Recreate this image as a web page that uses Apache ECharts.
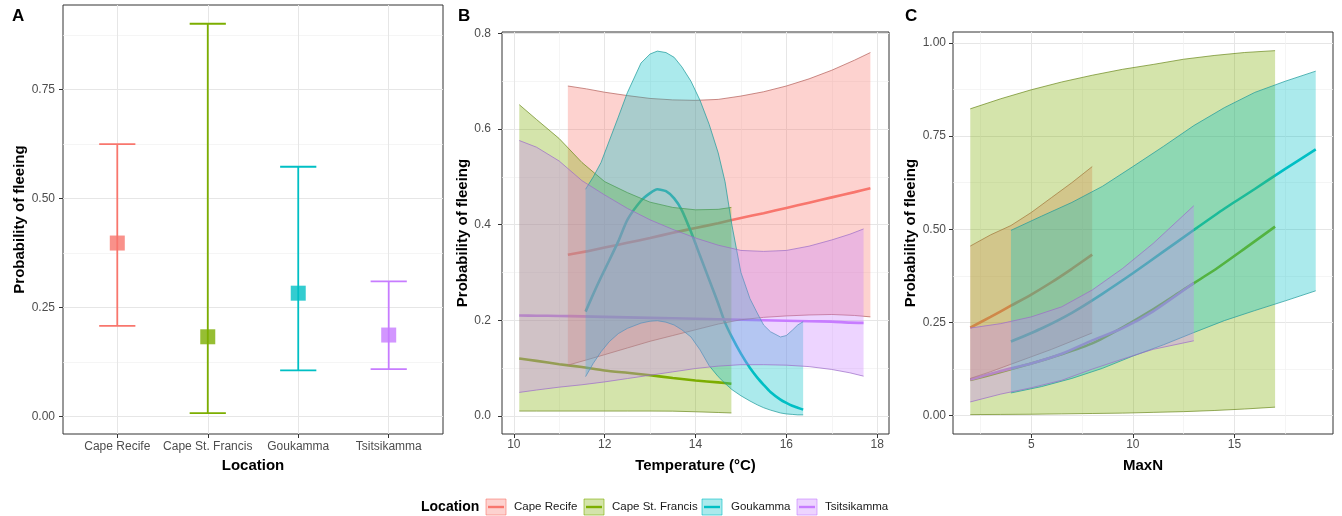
<!DOCTYPE html>
<html>
<head>
<meta charset="utf-8">
<script src="https://cdn.jsdelivr.net/npm/echarts@6/dist/echarts.min.js"></script>
<style>
  html, body { margin: 0; padding: 0; background: #ffffff; }
  #chart { width: 1342px; height: 516px; }
</style>
</head>
<body>
<div id="chart"></div>
<script>
// ---------- data ----------
const locations = ['Cape Recife', 'Cape St. Francis', 'Goukamma', 'Tsitsikamma'];
const palette = ['#F8766D', '#7CAE00', '#00BFC4', '#C77CFF'];
const edgeColors = ['#B4605A', '#6C8A1E', '#1E9A9A', '#9C6CC8'];

// Panel A: probability of fleeing by location (estimate with 95% CI)
const locFit = [0.398, 0.183, 0.283, 0.187];
const locLower = [0.208, 0.008, 0.106, 0.109];
const locUpper = [0.625, 0.901, 0.573, 0.310];

// Panel B: probability of fleeing against temperature (°C)
const tempRecifeX = [11.19, 11.6, 12.0, 12.5, 13.0, 13.5, 14.0, 14.5, 15.0, 15.5, 16.0, 16.5, 17.0, 17.5, 17.85];
const tempRecifeFit = [0.337, 0.344, 0.352, 0.362, 0.372, 0.383, 0.393, 0.403, 0.414, 0.424, 0.435, 0.446, 0.457, 0.468, 0.476];
const tempRecifeLo = [0.106, 0.117, 0.128, 0.142, 0.156, 0.168, 0.180, 0.192, 0.201, 0.206, 0.209, 0.211, 0.212, 0.210, 0.207];
const tempRecifeHi = [0.690, 0.684, 0.677, 0.670, 0.664, 0.661, 0.660, 0.662, 0.669, 0.678, 0.690, 0.705, 0.723, 0.744, 0.760];

const tempFrancisX = [10.12, 10.5, 11.0, 11.5, 12.0, 12.5, 13.0, 13.5, 14.0, 14.5, 14.79];
const tempFrancisFit = [0.120, 0.115, 0.108, 0.102, 0.095, 0.090, 0.085, 0.079, 0.074, 0.070, 0.067];
const tempFrancisLo = [0.010, 0.010, 0.010, 0.010, 0.010, 0.010, 0.010, 0.0098, 0.0085, 0.007, 0.006];
const tempFrancisHi = [0.651, 0.620, 0.580, 0.530, 0.490, 0.467, 0.447, 0.436, 0.431, 0.432, 0.436];

const tempGoukammaX = [11.58, 11.75, 11.92, 12.1, 12.3, 12.5, 12.8, 13.0, 13.16, 13.35, 13.53, 13.7, 13.9, 14.1, 14.3, 14.5, 14.65, 14.8, 15.0, 15.2, 15.36, 15.5, 15.65, 15.87, 16.0, 16.13, 16.25, 16.37];
const tempGoukammaFit = [0.218, 0.255, 0.290, 0.325, 0.365, 0.410, 0.450, 0.466, 0.474, 0.470, 0.455, 0.430, 0.385, 0.335, 0.285, 0.235, 0.195, 0.165, 0.130, 0.100, 0.080, 0.065, 0.050, 0.034, 0.027, 0.021, 0.017, 0.013];
const tempGoukammaLo = [0.082, 0.110, 0.134, 0.155, 0.172, 0.183, 0.194, 0.198, 0.199, 0.196, 0.190, 0.180, 0.165, 0.138, 0.105, 0.082, 0.068, 0.055, 0.042, 0.031, 0.023, 0.017, 0.012, 0.006, 0.004, 0.003, 0.002, 0.002];
const tempGoukammaHi = [0.474, 0.500, 0.530, 0.575, 0.625, 0.676, 0.738, 0.757, 0.763, 0.760, 0.750, 0.730, 0.700, 0.660, 0.610, 0.550, 0.490, 0.400, 0.300, 0.245, 0.215, 0.190, 0.176, 0.165, 0.168, 0.179, 0.190, 0.197];

const tempTsitsiX = [10.12, 10.5, 11.0, 11.5, 12.0, 12.5, 13.0, 13.5, 14.0, 14.5, 15.0, 15.5, 16.0, 16.5, 17.0, 17.4, 17.7];
const tempTsitsiFit = [0.210, 0.2095, 0.209, 0.208, 0.207, 0.206, 0.205, 0.204, 0.203, 0.202, 0.201, 0.200, 0.199, 0.198, 0.197, 0.195, 0.1945];
const tempTsitsiLo = [0.049, 0.054, 0.060, 0.065, 0.071, 0.078, 0.085, 0.092, 0.099, 0.104, 0.107, 0.107, 0.106, 0.103, 0.097, 0.090, 0.083];
const tempTsitsiHi = [0.576, 0.562, 0.533, 0.492, 0.462, 0.434, 0.410, 0.390, 0.372, 0.357, 0.346, 0.344, 0.346, 0.355, 0.368, 0.380, 0.391];

// Panel C: probability of fleeing against MaxN
const maxnRecifeX = [2, 3, 4, 5, 6, 7, 8];
const maxnRecifeFit = [0.2365, 0.265, 0.295, 0.325, 0.358, 0.394, 0.432];
const maxnRecifeLo = [0.100, 0.118, 0.138, 0.158, 0.178, 0.200, 0.222];
const maxnRecifeHi = [0.455, 0.485, 0.510, 0.545, 0.585, 0.625, 0.668];

const maxnFrancisX = [2, 3.5, 5, 6.5, 8, 9.5, 11, 12.5, 14, 15.5, 17];
const maxnFrancisFit = [0.096, 0.117, 0.140, 0.165, 0.194, 0.237, 0.285, 0.338, 0.390, 0.448, 0.507];
const maxnFrancisLo = [0.003, 0.0035, 0.004, 0.005, 0.006, 0.007, 0.009, 0.011, 0.014, 0.018, 0.023];
const maxnFrancisHi = [0.823, 0.850, 0.874, 0.895, 0.913, 0.929, 0.942, 0.956, 0.966, 0.974, 0.979];

const maxnGoukammaX = [4, 5.5, 7, 8.5, 10, 11.5, 13, 14.5, 16, 17.5, 19];
const maxnGoukammaFit = [0.199, 0.234, 0.276, 0.327, 0.382, 0.440, 0.498, 0.555, 0.608, 0.662, 0.714];
const maxnGoukammaLo = [0.061, 0.078, 0.100, 0.127, 0.160, 0.190, 0.223, 0.255, 0.282, 0.308, 0.335];
const maxnGoukammaHi = [0.497, 0.535, 0.572, 0.615, 0.668, 0.722, 0.778, 0.826, 0.867, 0.897, 0.924];

const maxnTsitsiX = [2, 3.5, 5, 6.5, 8, 9.5, 11, 13];
const maxnTsitsiFit = [0.097, 0.120, 0.140, 0.166, 0.202, 0.235, 0.280, 0.356];
const maxnTsitsiLo = [0.037, 0.058, 0.075, 0.095, 0.125, 0.152, 0.178, 0.201];
const maxnTsitsiHi = [0.235, 0.247, 0.265, 0.292, 0.337, 0.395, 0.462, 0.563];

// Tick positions
const ticksA_y = [0, 0.25, 0.5, 0.75];
const minorA_y = [0.125, 0.375, 0.625, 0.875];
const ticksB_x = [10, 12, 14, 16, 18];
const minorB_x = [11, 13, 15, 17];
const ticksB_y = [0, 0.2, 0.4, 0.6, 0.8];
const minorB_y = [0.1, 0.3, 0.5, 0.7];
const ticksC_x = [5, 10, 15];
const minorC_x = [2.5, 7.5, 12.5, 17.5];
const ticksC_y = [0, 0.25, 0.5, 0.75, 1];
const minorC_y = [0.125, 0.375, 0.625, 0.875];

// ---------- helpers ----------
const FONT = '"Liberation Sans", Arial, sans-serif';

function rgba(hex, a) {
  const n = parseInt(hex.slice(1), 16);
  return 'rgba(' + ((n >> 16) & 255) + ',' + ((n >> 8) & 255) + ',' + (n & 255) + ',' + a + ')';
}

function tickLabels(ticks, fmt, margin) {
  return { show: true, customValues: ticks, formatter: fmt, color: '#4D4D4D', fontSize: 12, fontFamily: FONT, margin: margin };
}

function mainAxis(gridIndex, min, max, ticks, labels, extra) {
  return Object.assign({
    type: 'value', gridIndex: gridIndex, min: min, max: max,
    axisLine: { show: false, onZero: false },
    axisTick: { show: true, customValues: ticks, length: 4, lineStyle: { color: '#333333', width: 1 } },
    axisLabel: labels,
    splitLine: { show: true, lineStyle: { color: '#E6E6E6', width: 1 } },
    nameTextStyle: { fontSize: 15, fontWeight: 'bold', color: '#000000', fontFamily: FONT }
  }, extra || {});
}

function minorAxis(gridIndex, min, max, ticks) {
  return {
    type: 'value', gridIndex: gridIndex, min: min, max: max,
    axisLine: { show: false, onZero: false },
    axisTick: { show: false, customValues: ticks },
    axisLabel: { show: false },
    splitLine: { show: true, lineStyle: { color: '#F1F1F1', width: 0.7 } }
  };
}

function fitLine(k, xs, ys, xi, yi) {
  return {
    type: 'line', xAxisIndex: xi, yAxisIndex: yi, silent: true, z: 2,
    data: xs.map((x, i) => [x, ys[i]]),
    showSymbol: false, smooth: 0.2,
    lineStyle: { color: palette[k], width: 2.6 },
    itemStyle: { color: palette[k] }
  };
}

// confidence ribbon drawn over the fitted lines
function ribbon(k, xs, lo, hi, xi, yi) {
  const data = xs.map((x, i) => [x, lo[i], hi[i]]);
  return {
    type: 'custom', xAxisIndex: xi, yAxisIndex: yi, silent: true, z: 3,
    data: data, encode: { x: 0, y: [1, 2] },
    renderItem: function (params, api) {
      if (params.dataIndex !== 0) return null;
      const up = data.map(d => api.coord([d[0], d[2]]));
      const dn = data.map(d => api.coord([d[0], d[1]]));
      return {
        type: 'group',
        children: [
          { type: 'polygon', shape: { points: up.concat(dn.slice().reverse()) },
            style: { fill: rgba(palette[k], 0.33), stroke: null } },
          { type: 'polyline', shape: { points: up },
            style: { fill: null, stroke: edgeColors[k], lineWidth: 0.8, opacity: 0.9 } },
          { type: 'polyline', shape: { points: dn },
            style: { fill: null, stroke: edgeColors[k], lineWidth: 0.8, opacity: 0.9 } }
        ]
      };
    }
  };
}

// ---------- options ----------
const grids = [
  { left: 63, top: 5, width: 380, height: 429 },
  { left: 502, top: 32, width: 387, height: 402 },
  { left: 953, top: 32, width: 380, height: 402 }
].map(g => Object.assign(g, { show: true, borderColor: '#333333', borderWidth: 1, backgroundColor: 'transparent', containLabel: false }));

const fmt2 = v => v.toFixed(2);
const fmt1 = v => v.toFixed(1);
const fmtInt = v => String(v);
const fmtLoc = v => locations[Math.round(v) - 1];

const xAxes = [
  mainAxis(0, 0.4, 4.6, [1, 2, 3, 4], tickLabels([1, 2, 3, 4], fmtLoc, 7),
    { name: 'Location', nameLocation: 'middle', nameGap: 24 }),
  mainAxis(1, 9.74, 18.26, ticksB_x, tickLabels(ticksB_x, fmtInt, 5),
    { name: 'Temperature (\u00B0C)', nameLocation: 'middle', nameGap: 24 }),
  minorAxis(1, 9.74, 18.26, minorB_x),
  mainAxis(2, 1.15, 19.85, ticksC_x, tickLabels(ticksC_x, fmtInt, 5),
    { name: 'MaxN', nameLocation: 'middle', nameGap: 24 }),
  minorAxis(2, 1.15, 19.85, minorC_x)
];

const yAxes = [
  mainAxis(0, -0.04, 0.944, ticksA_y, tickLabels(ticksA_y, fmt2, 8),
    { name: 'Probability of fleeing', nameLocation: 'middle', nameRotate: 90, nameGap: 29 }),
  minorAxis(0, -0.04, 0.944, minorA_y),
  mainAxis(1, -0.038, 0.803, ticksB_y, tickLabels(ticksB_y, fmt1, 11),
    { name: 'Probability of fleeing', nameLocation: 'middle', nameRotate: 90, nameGap: 24 }),
  minorAxis(1, -0.038, 0.803, minorB_y),
  mainAxis(2, -0.049, 1.029, ticksC_y, tickLabels(ticksC_y, fmt2, 7),
    { name: 'Probability of fleeing', nameLocation: 'middle', nameRotate: 90, nameGap: 30 }),
  minorAxis(2, -0.049, 1.029, minorC_y)
];

const series = [];

// Panel A: error bars and point estimates
series.push({
  type: 'custom', xAxisIndex: 0, yAxisIndex: 0, silent: true, z: 2,
  data: locations.map((_, i) => [i + 1, locLower[i], locUpper[i]]),
  encode: { x: 0, y: [1, 2] },
  renderItem: function (params, api) {
    const x = api.value(0);
    const lo = api.coord([x, api.value(1)]);
    const hi = api.coord([x, api.value(2)]);
    const half = api.size([0.4, 0])[0] / 2;
    const st = { stroke: palette[params.dataIndex], lineWidth: 1.8, fill: null };
    return {
      type: 'group', children: [
        { type: 'line', shape: { x1: lo[0], y1: lo[1], x2: hi[0], y2: hi[1] }, style: st },
        { type: 'line', shape: { x1: lo[0] - half, y1: lo[1], x2: lo[0] + half, y2: lo[1] }, style: st },
        { type: 'line', shape: { x1: hi[0] - half, y1: hi[1], x2: hi[0] + half, y2: hi[1] }, style: st }
      ]
    };
  }
});
series.push({
  type: 'scatter', xAxisIndex: 0, yAxisIndex: 0, silent: true, z: 3,
  symbol: 'rect', symbolSize: 15,
  data: locations.map((_, i) => ({ value: [i + 1, locFit[i]], itemStyle: { color: palette[i] } }))
});

// Panel B: fitted lines, then confidence ribbons over them
series.push(fitLine(0, tempRecifeX, tempRecifeFit, 1, 2));
series.push(fitLine(1, tempFrancisX, tempFrancisFit, 1, 2));
series.push(fitLine(2, tempGoukammaX, tempGoukammaFit, 1, 2));
series.push(fitLine(3, tempTsitsiX, tempTsitsiFit, 1, 2));
series.push(ribbon(0, tempRecifeX, tempRecifeLo, tempRecifeHi, 1, 2));
series.push(ribbon(1, tempFrancisX, tempFrancisLo, tempFrancisHi, 1, 2));
series.push(ribbon(2, tempGoukammaX, tempGoukammaLo, tempGoukammaHi, 1, 2));
series.push(ribbon(3, tempTsitsiX, tempTsitsiLo, tempTsitsiHi, 1, 2));

// Panel C
series.push(fitLine(0, maxnRecifeX, maxnRecifeFit, 3, 4));
series.push(fitLine(1, maxnFrancisX, maxnFrancisFit, 3, 4));
series.push(fitLine(2, maxnGoukammaX, maxnGoukammaFit, 3, 4));
series.push(fitLine(3, maxnTsitsiX, maxnTsitsiFit, 3, 4));
series.push(ribbon(0, maxnRecifeX, maxnRecifeLo, maxnRecifeHi, 3, 4));
series.push(ribbon(1, maxnFrancisX, maxnFrancisLo, maxnFrancisHi, 3, 4));
series.push(ribbon(2, maxnGoukammaX, maxnGoukammaLo, maxnGoukammaHi, 3, 4));
series.push(ribbon(3, maxnTsitsiX, maxnTsitsiLo, maxnTsitsiHi, 3, 4));

// Panel letters and the shared legend
const legendIconX = [486, 584, 702, 797];
const legendTextX = [514, 612, 731, 825];
const legendY = 507;
const graphics = [
  { type: 'text', left: 12, top: 8, style: { text: 'A', font: 'bold 17px ' + FONT, fill: '#000' } },
  { type: 'text', left: 458, top: 8, style: { text: 'B', font: 'bold 17px ' + FONT, fill: '#000' } },
  { type: 'text', left: 905, top: 8, style: { text: 'C', font: 'bold 17px ' + FONT, fill: '#000' } },
  { type: 'text', x: 421, y: legendY, style: { text: 'Location', font: 'bold 14px ' + FONT, fill: '#000', verticalAlign: 'middle' } }
];
locations.forEach((name, i) => {
  const x0 = legendIconX[i];
  graphics.push({ type: 'rect', shape: { x: x0, y: legendY - 8, width: 20, height: 16 },
    style: { fill: rgba(palette[i], 0.33), stroke: rgba(palette[i], 0.6), lineWidth: 1 } });
  graphics.push({ type: 'line', shape: { x1: x0 + 2, y1: legendY, x2: x0 + 18, y2: legendY },
    style: { stroke: palette[i], lineWidth: 2.4 } });
  graphics.push({ type: 'text', x: legendTextX[i], y: legendY,
    style: { text: name, font: '11.5px ' + FONT, fill: '#1A1A1A', verticalAlign: 'middle' } });
});

const chart = echarts.init(document.getElementById('chart'), null, { renderer: 'canvas' });
chart.setOption({
  backgroundColor: '#ffffff',
  animation: false,
  grid: grids,
  xAxis: xAxes,
  yAxis: yAxes,
  series: series,
  graphic: graphics
});
</script>
</body>
</html>
